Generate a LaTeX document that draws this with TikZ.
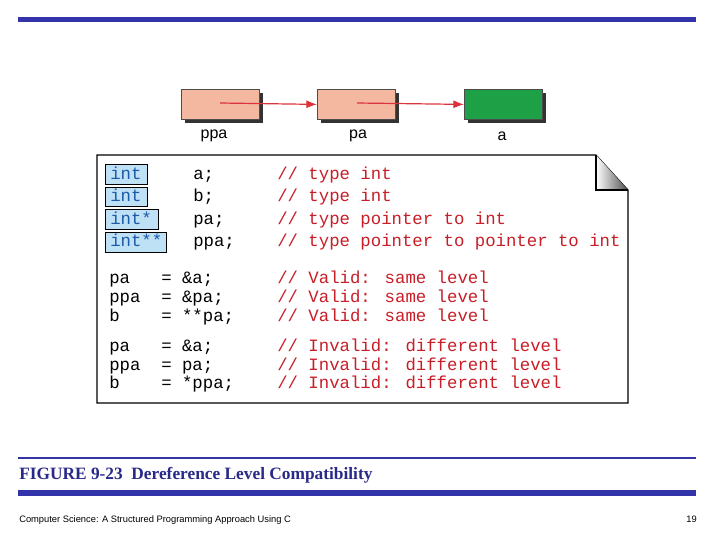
\documentclass[tikz,border=0pt]{standalone}
\usepackage{fontspec}
\usetikzlibrary{arrows.meta}
\setmainfont{Liberation Serif}
\newfontfamily\cmono{Liberation Mono}
\newfontfamily\csans{Liberation Sans}
\definecolor{bar}{RGB}{51,51,170}
\definecolor{salmon}{RGB}{244,184,160}
\definecolor{grn}{RGB}{30,160,70}
\definecolor{arr}{RGB}{220,50,60}
\definecolor{typ}{RGB}{190,225,245}
\definecolor{typtxt}{RGB}{30,90,170}
\definecolor{cmt}{RGB}{200,30,40}
\begin{document}
\begin{tikzpicture}[x=0.75pt,y=-0.75pt,
  cell/.style={draw=black!70,line width=0.6pt,minimum width=58.5pt,minimum height=22.5pt,inner sep=0pt},
  lbl/.style={font=\csans\fontsize{12}{14}\selectfont,anchor=base},
  code/.style={font=\cmono\fontsize{13}{15}\selectfont,anchor=base west,inner sep=0pt},
  comtext/.style={code,text=cmt},
  tb/.style={draw=black,fill=typ,line width=0.6pt},
  pt/.style={arr,line width=0.9pt,-{Latex[length=8pt,width=6pt]}}]
\useasboundingbox (0,0) rectangle (720,540);
\fill[bar] (18,16.5) rectangle (696,21.5);
% boxes
\foreach \x/\c/\n in {181/salmon/b1,317/salmon/b2,464/grn/b3}{
  \fill[black!80] (\x+4,93) rectangle (\x+82,123);
  \node[cell,fill=\c,anchor=north west] (\n) at (\x,89) {};
}
\node[lbl] (l1) at (214,138) {ppa};
\node[lbl] (l2) at (358,138) {pa};
\node[lbl] (l3) at (502,140) {a};
\coordinate (s1) at (220,103);
\coordinate (s2) at (357,103);
\draw[pt] (s1) -- (b2.west);
\draw[pt] (s2) -- (b3.west);
% panel
\draw[line width=0.8pt,fill=white] (97,155) -- (596,155) -- (628,190) -- (628,403) -- (97,403) -- cycle;
\shade[left color=white,right color=black!70] (596,155) -- (628,190) -- (596,190) -- cycle;
\draw[line width=0.8pt] (596,155) -- (596,190) -- (628,190);
% type boxes
\draw[tb] (105,164) rectangle (147,184);
\draw[tb] (105,187) rectangle (147,206);
\draw[tb] (105,209) rectangle (158,229);
\draw[tb] (105,232) rectangle (166,252);
\foreach \y/\t/\v/\c in {179/int/a;/type int,201/int/b;/type int,224/int*/pa;/type pointer to int,246/int**/ppa;/type pointer to pointer to int}{
  \node[code,text=typtxt] at (110,\y) {\t};
  \node[code] at (193,\y) {\v};
  \node[comtext] at (277,\y) {// \c};
}
\foreach \y/\a/\b/\c in {283/pa/\&a;/Valid: same level,302/ppa/\&pa;/Valid: same level,321/b/**pa;/Valid: same level,
  351/pa/\&a;/Invalid: different level,370/ppa/pa;/Invalid: different level,388/b/*ppa;/Invalid: different level}{
  \node[code] at (109,\y) {\a};
  \node[code] at (161,\y) {= \b};
  \node[comtext] at (277,\y) {// \c};
}
\fill[bar] (18,456.5) rectangle (696,459);
\node[anchor=base west,inner sep=0pt,font=\bfseries\fontsize{13}{15}\selectfont,text=bar!80!black] at (19,479) {FIGURE 9-23\ \ Dereference Level Compatibility};
\fill[bar] (18,489.5) rectangle (696,495.5);
\node[anchor=base west,inner sep=0pt,font=\csans\fontsize{7}{8}\selectfont] at (19,522) {Computer Science: A Structured Programming Approach Using C};
\node[anchor=base east,inner sep=0pt,font=\csans\fontsize{7}{8}\selectfont] at (697,522) {19};
\end{tikzpicture}
\end{document}
